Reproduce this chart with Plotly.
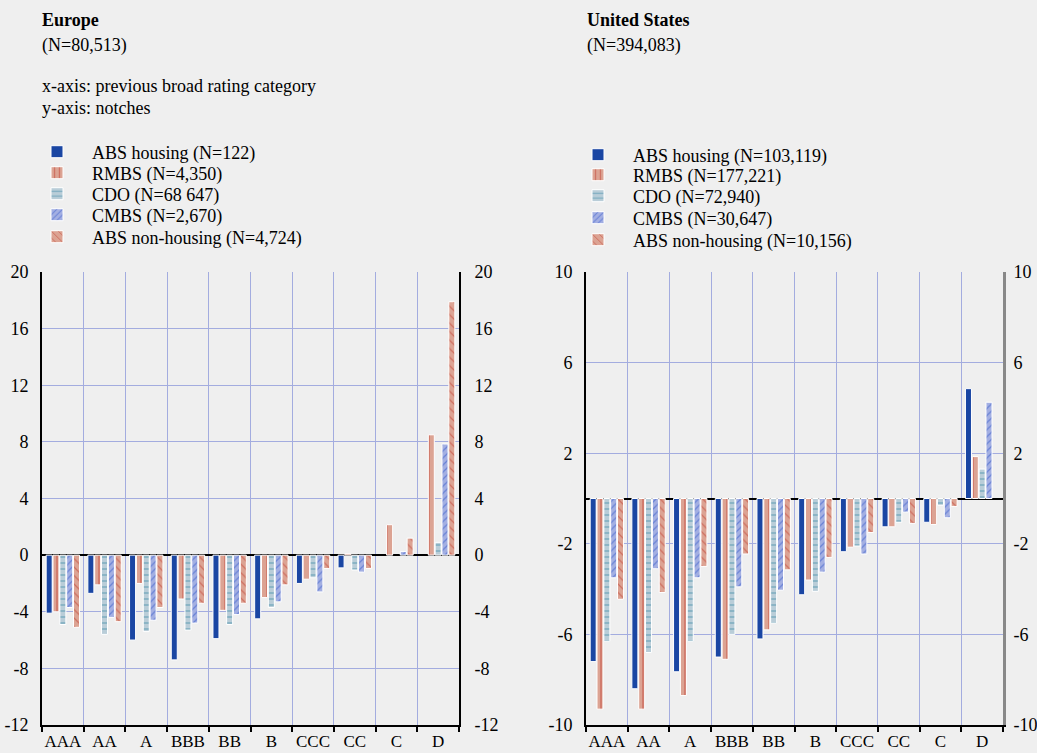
import plotly.graph_objects as go

categories = ["AAA", "AA", "A", "BBB", "BB", "B", "CCC", "CC", "C", "D"]

# Europe (notches)
eu_abs_housing = [-4.1, -2.7, -6.0, -7.4, -5.9, -4.5, -2.0, -0.9, None, None]
eu_rmbs = [-4.0, -2.1, -2.0, -3.1, -3.9, -3.0, -1.7, 0.1, 2.15, 8.5]
eu_cdo = [-4.9, -5.6, -5.4, -5.3, -4.9, -3.7, -1.6, -1.05, None, 0.9]
eu_cmbs = [-3.7, -4.4, -4.6, -4.8, -4.2, -3.3, -2.6, -1.2, 0.25, 7.85]
eu_abs_non = [-5.1, -4.7, -3.7, -3.4, -3.4, -2.1, -0.95, -0.95, 1.2, 17.9]

# United States (notches)
us_abs_housing = [-7.2, -8.4, -7.65, -7.0, -6.2, -4.25, -2.35, -1.25, -1.05, 4.85]
us_rmbs = [-9.3, -9.3, -8.7, -7.1, -5.8, -3.6, -2.15, -1.25, -1.15, 1.85]
us_cdo = [-6.3, -6.8, -6.3, -6.0, -5.5, -4.1, -2.1, -1.05, -0.3, 1.3]
us_cmbs = [-3.5, -3.1, -3.5, -3.9, -4.05, -3.25, -2.45, -0.6, -0.85, 4.25]
us_abs_non = [-4.45, -4.15, -3.0, -2.45, -3.15, -2.6, -1.5, -1.1, -0.35, None]

eu_names = ["ABS housing (N=122)", "RMBS (N=4,350)", "CDO (N=68 647)",
            "CMBS (N=2,670)", "ABS non-housing (N=4,724)"]
us_names = ["ABS housing (N=103,119)", "RMBS (N=177,221)", "CDO (N=72,940)",
            "CMBS (N=30,647)", "ABS non-housing (N=10,156)"]

eu_ticks = [-12, -8, -4, 0, 4, 8, 12, 16, 20]
us_ticks = [-10, -6, -2, 2, 6, 10]

FONT = "Liberation Serif"
FS = 18
XFS = 17
BG = "#efefef"
GRID = "#a3acdf"

W, H = 1037, 753
ML, MR, MT, MB = 42, 34, 272, 28
PW, PH = W - ML - MR, H - MT - MB


def px(x):
    return (x - ML) / PW


def py(y):
    return (H - MB - y) / PH


styles = [
    dict(color="#1a46a3", pattern=None),
    dict(color="#dca393", pattern=dict(shape="|", fgcolor="#c0392b", size=6, solidity=0.25)),
    dict(color="#b9cdd8", pattern=dict(shape="-", fgcolor="#3f8aa6", size=6, solidity=0.25)),
    dict(color="#a3afe2", pattern=dict(shape="/", fgcolor="#2f55c8", size=5, solidity=0.25)),
    dict(color="#dca393", pattern=dict(shape="\\", fgcolor="#c0392b", size=6, solidity=0.2)),
]

fig = go.Figure()

eu_series = [eu_abs_housing, eu_rmbs, eu_cdo, eu_cmbs, eu_abs_non]
us_series = [us_abs_housing, us_rmbs, us_cdo, us_cmbs, us_abs_non]

# legend item centres (page pixels)
eu_leg_y = [152, 173, 194, 215, 237]
us_leg_y = [155, 175, 196, 218, 240]
eu_text_x = 92
us_text_x = 633
ITEMW = 60
TEXT_OFF = ITEMW + 10

legends = {}
k = 0
for vals, name, st, ly in zip(eu_series, eu_names, styles, eu_leg_y):
    k += 1
    lid = "legend" if k == 1 else f"legend{k}"
    marker = dict(color=st["color"], line=dict(color="white", width=1))
    if st["pattern"]:
        marker["pattern"] = st["pattern"]
    fig.add_trace(go.Bar(x=categories, y=vals, name=name, marker=marker,
                         xaxis="x", yaxis="y", legend=lid))
    legends[lid] = dict(x=px(eu_text_x - TEXT_OFF), y=py(ly), xanchor="left",
                        yanchor="middle", bgcolor="rgba(0,0,0,0)",
                        font=dict(size=FS, family=FONT), itemwidth=ITEMW)

for vals, name, st, ly in zip(us_series, us_names, styles, us_leg_y):
    k += 1
    lid = f"legend{k}"
    marker = dict(color=st["color"], line=dict(color="white", width=1))
    if st["pattern"]:
        marker["pattern"] = st["pattern"]
    fig.add_trace(go.Bar(x=categories, y=vals, name=name, marker=marker,
                         xaxis="x2", yaxis="y2", legend=lid))
    legends[lid] = dict(x=px(us_text_x - TEXT_OFF), y=py(ly), xanchor="left",
                        yanchor="middle", bgcolor="rgba(0,0,0,0)",
                        font=dict(size=FS, family=FONT), itemwidth=ITEMW)

# empty traces to anchor the right-hand mirrored axes
fig.add_trace(go.Scatter(x=[], y=[], xaxis="x", yaxis="y3", showlegend=False))
fig.add_trace(go.Scatter(x=[], y=[], xaxis="x2", yaxis="y4", showlegend=False))

xcommon = dict(type="category", tickson="boundaries", showgrid=True, gridcolor=GRID,
               gridwidth=1, showline=True, linecolor="black", linewidth=2,
               ticks="outside", ticklen=5, tickcolor="black", tickwidth=2, tickangle=0,
               tickfont=dict(size=XFS, color="black", family=FONT), categoryorder="array",
               categoryarray=categories, automargin=False, ticklabelstandoff=0)

ycommon = dict(automargin=False, ticks="", tickfont=dict(size=FS, family=FONT, color="black"))

fig.update_layout(
    width=W, height=H, autosize=False,
    paper_bgcolor=BG, plot_bgcolor=BG,
    font=dict(family=FONT, size=FS, color="black"),
    margin=dict(l=ML, r=MR, t=MT, b=MB, autoexpand=False),
    barmode="group", bargap=0.18, bargroupgap=0.12,
    showlegend=True,
    xaxis=dict(domain=[0, px(459)], anchor="y", **xcommon),
    xaxis2=dict(domain=[px(586), 1.0], anchor="y2", **xcommon),
    yaxis=dict(domain=[0, 1], anchor="x", range=[-12, 20], tickvals=eu_ticks,
               ticktext=[str(v) for v in eu_ticks], showgrid=True, gridcolor=GRID,
               zeroline=True, zerolinecolor="black", zerolinewidth=2,
               showline=True, linecolor="black", linewidth=2,
               ticklabelstandoff=8, **ycommon),
    yaxis3=dict(overlaying="y", side="right", anchor="x", range=[-12, 20],
                tickvals=eu_ticks, ticktext=[str(v) for v in eu_ticks],
                showgrid=False, zeroline=False, showline=True, linecolor="black",
                linewidth=2, ticklabelstandoff=10, **ycommon),
    yaxis2=dict(domain=[0, 1], anchor="x2", range=[-10, 10], tickvals=us_ticks,
                ticktext=[str(v) for v in us_ticks], showgrid=True, gridcolor=GRID,
                zeroline=True, zerolinecolor="black", zerolinewidth=2,
                showline=True, linecolor="black", linewidth=2,
                ticklabelstandoff=8, **ycommon),
    yaxis4=dict(overlaying="y2", side="right", anchor="x2", range=[-10, 10],
                tickvals=us_ticks, ticktext=[str(v) for v in us_ticks],
                showgrid=False, zeroline=False, showline=True, linecolor="#888888",
                linewidth=3, ticklabelstandoff=4, **ycommon),
    **legends,
)

annotations = [
    dict(text="<b>Europe</b>", x=40, y=20),
    dict(text="(N=80,513)", x=40, y=45),
    dict(text="x-axis: previous broad rating category", x=40, y=86),
    dict(text="y-axis: notches", x=40, y=108),
    dict(text="<b>United States</b>", x=585, y=20),
    dict(text="(N=394,083)", x=585, y=45),
]
for a in annotations:
    fig.add_annotation(text=a["text"], xref="paper", yref="paper",
                       x=px(a["x"]), y=py(a["y"]),
                       xanchor="left", yanchor="middle", showarrow=False,
                       font=dict(size=FS, family=FONT, color="black"))

fig.write_html(
    "out.html",
    config={"displayModeBar": False},
    post_script="document.body.style.margin='0';document.body.style.background='%s';"
                "document.documentElement.style.overflow='hidden';" % BG,
)
